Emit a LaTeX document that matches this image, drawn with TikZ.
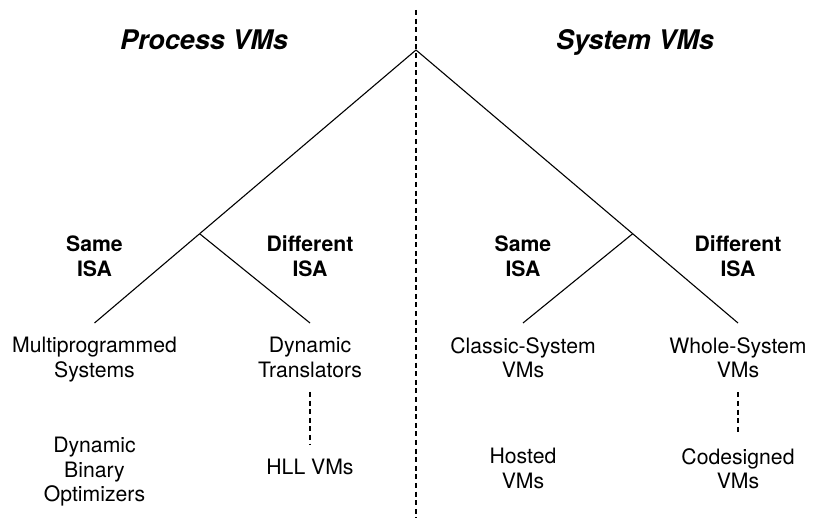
\documentclass[tikz,border=0pt]{standalone}
\usepackage{fontspec}
\setmainfont{TeX Gyre Heros}
\usetikzlibrary{calc}

\tikzset{
  vmtitle/.style={font=\fontsize{13.5}{16}\selectfont\bfseries\itshape, anchor=base, inner sep=0pt},
  isalabel/.style={font=\fontsize{10.6}{12.5}\selectfont\bfseries, align=center, anchor=north, inner sep=0pt},
  vmleaf/.style={font=\fontsize{10.6}{12.2}\selectfont, align=center, anchor=north, inner sep=7pt},
  branch/.style={line width=0.55pt},
  divider/.style={line width=0.6pt, dash pattern=on 2.5pt off 1.8pt}
}

\begin{document}
\begin{tikzpicture}[x=0.5pt,y=-0.5pt]
\useasboundingbox (0,0) rectangle (815,518);

\node[vmtitle] (process) at (204,50) {Process VMs};
\node[vmtitle] (system) at (635,50) {System VMs};

\coordinate (divtop) at (416,10);
\coordinate (divbot) at (416,518);
\coordinate (apex) at (416,50);

\node[isalabel] (psame) at (94.5,235) {Same\\ISA};
\node[isalabel] (pdiff) at (310,235) {Different\\ISA};
\node[isalabel] (ssame) at (523,235) {Same\\ISA};
\node[isalabel] (sdiff) at (738,235) {Different\\ISA};

\node[vmleaf] (msys) at (94.5,323) {Multiprogrammed\\Systems};
\node[vmleaf] (dtrans) at (310,323) {Dynamic\\Translators};
\node[vmleaf] (csys) at (523,323) {Classic-System\\VMs};
\node[vmleaf] (wsys) at (738,323) {Whole-System\\VMs};

\node[vmleaf] (dbo) at (94.5,423) {Dynamic\\Binary\\Optimizers};
\node[vmleaf] (hll) at (310,445) {HLL VMs};
\node[vmleaf] (hosted) at (523,434) {Hosted\\VMs};
\node[vmleaf] (codes) at (738,434) {Codesigned\\VMs};

\coordinate (pjoin) at ($(apex)!0.673!(msys.north)$);
\coordinate (sjoin) at ($(apex)!0.673!(wsys.north)$);

\draw[divider] (divtop) -- (divbot);

\foreach \from/\to in {apex/pjoin,pjoin/msys.north,pjoin/dtrans.north,apex/sjoin,sjoin/wsys.north,sjoin/csys.north}
\draw[branch] (\from) -- (\to);

\foreach \from/\to in {dtrans/hll,wsys/codes}
\draw[divider] (\from.south) -- (\to.north);
\end{tikzpicture}
\end{document}
